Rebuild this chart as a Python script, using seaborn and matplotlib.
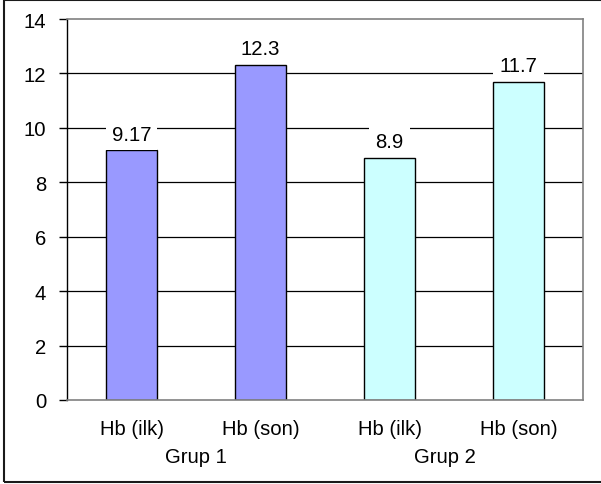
import matplotlib
matplotlib.use("Agg")
import matplotlib.pyplot as plt
import matplotlib.transforms as mtransforms
from matplotlib.patches import Rectangle
import pandas as pd
import seaborn as sns

# Hemoglobin values, first and last measurement, per group
groups = ["Grup 1", "Grup 1", "Grup 2", "Grup 2"]
measures = ["Hb (ilk)", "Hb (son)", "Hb (ilk)", "Hb (son)"]
hb_values = [9.17, 12.3, 8.9, 11.7]
value_labels = ["9.17", "12.3", "8.9", "11.7"]
group_names = ["Grup 1", "Grup 2"]
group_label_pos = [0.5, 2.43]
y_ticks = [0, 2, 4, 6, 8, 10, 12, 14]
group_colors = ["#9999FF", "#CCFFFF"]

df = pd.DataFrame({
    "slot": [f"{g} {m}" for g, m in zip(groups, measures)],
    "grup": groups,
    "olcum": measures,
    "Hb": hb_values,
})

sns.set_theme(style="white")
plt.rcParams["font.family"] = ["Liberation Sans", "DejaVu Sans"]
FS = 14.6

fig = plt.figure(figsize=(6.01, 4.85), dpi=100)
ax = fig.add_axes([67 / 601, 1 - 401 / 485, (583 - 67) / 601, (401 - 20) / 485])

sns.barplot(
    data=df, x="slot", y="Hb", hue="grup", palette=group_colors,
    saturation=1, dodge=False, width=0.4, edgecolor="black", linewidth=1.0,
    legend=False, ax=ax, zorder=3,
)

ax.set_ylim(0, 14)
ax.set_xlim(-0.5, 3.5)
ax.set_yticks(y_ticks)
ax.set_yticklabels([str(t) for t in y_ticks], fontsize=FS, color="black")
ax.set_xticks(range(len(measures)))
ax.set_xticklabels(measures, fontsize=FS, color="black")
ax.set_xlabel("")
ax.set_ylabel("")

# horizontal gridlines
for t in y_ticks[1:-1]:
    ax.axhline(t, color="black", lw=0.9, zorder=1)

ax.tick_params(axis="y", which="both", left=True, length=6, width=1,
               color="black", pad=9, direction="out")
ax.tick_params(axis="x", which="both", bottom=False, length=0, pad=13.5)

for side in ["top", "right", "bottom"]:
    ax.spines[side].set_color("#808080")
    ax.spines[side].set_linewidth(1.2)
ax.spines["left"].set_color("black")
ax.spines["left"].set_linewidth(1.0)
for s in ax.spines.values():
    s.set_visible(True)
    s.set_zorder(4)

# value labels above the bars
for i, (v, lab) in enumerate(zip(hb_values, value_labels)):
    ax.annotate(
        lab, xy=(i, v), xytext=(0, 11.8), textcoords="offset points",
        ha="center", va="center", fontsize=FS, color="black", zorder=5,
        bbox=dict(boxstyle="square,pad=0.3", fc="white", ec="none"),
    )

# group names under the category labels
trans = mtransforms.blended_transform_factory(ax.transData, ax.transAxes)
for name, xpos in zip(group_names, group_label_pos):
    ax.text(xpos, -0.1496, name, transform=trans, ha="center", va="center",
            fontsize=FS, color="black")

# chart area frame
fig.patches.append(Rectangle(
    (4 / 601, 2 / 485), 1.0, 1 - 3 / 485, transform=fig.transFigure,
    fill=False, ec="#1a1a1a", lw=1.5, zorder=0,
))

fig.savefig("out.png", dpi=100)
